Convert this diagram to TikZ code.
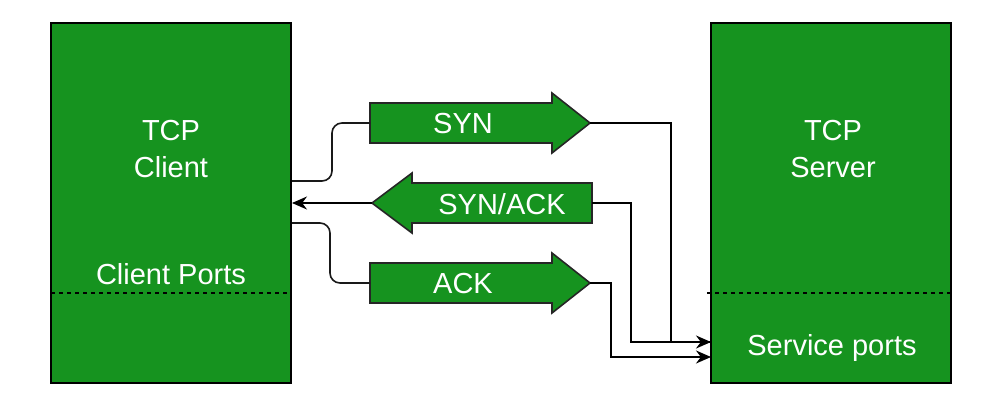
\documentclass[tikz,border=0pt]{standalone}
\usepackage{fontspec}
\setmainfont{Liberation Sans}
\usetikzlibrary{arrows.meta}
\definecolor{boxgreen}{RGB}{22,147,31}
\tikzset{
  x=1pt, y=-1pt,
  hostbox/.style={draw=black, line width=1.6pt, fill=boxgreen, rectangle, minimum width=240pt, minimum height=360pt, inner sep=0pt},
  lbl/.style={text=white, font=\fontsize{29}{37}\selectfont, align=center, inner sep=0pt},
  msgarrow/.style={draw=black!85, line width=1.6pt, fill=boxgreen, line join=miter},
  portline/.style={draw=black, line width=1.3pt, dash pattern=on 4pt off 4pt},
  conn/.style={draw=black!90, line width=1.6pt, rounded corners=10pt},
  connarr/.style={draw=black, line width=1.6pt, -{Stealth[length=15pt,width=13pt]}},
}
\begin{document}
\begin{tikzpicture}
\useasboundingbox (0,0) rectangle (996,408);
% hosts
\node[hostbox] (client) at (171,203) {};
\node[hostbox] (server) at (831,203) {};
\node[lbl] (clienttxt) at (171,149) {TCP\\Client};
\node[lbl] (servertxt) at (833,149) {TCP\\Server};
\node[lbl] (cports) at (171,274) {Client Ports};
\node[lbl] (sports) at (832,348) {Service ports};
% port separators
\coordinate (cpl) at (51,293);
\coordinate (cpr) at (290,293);
\coordinate (spl) at (707,293);
\coordinate (spr) at (951,293);
\draw[portline] (cpl) -- (cpr);
\draw[portline] (spl) -- (spr);
% message arrows
\draw[msgarrow] (370,103) -- (552,103) -- (552,93) -- (590,123) -- (552,153) -- (552,143) -- (370,143) -- cycle;
\draw[msgarrow] (592,183) -- (412,183) -- (412,173) -- (372,203) -- (412,233) -- (412,223) -- (592,223) -- cycle;
\draw[msgarrow] (370,263) -- (552,263) -- (552,253) -- (590,283) -- (552,313) -- (552,303) -- (370,303) -- cycle;
\node[lbl] (syn) at (463,124) {SYN};
\node[lbl] (synack) at (502,204) {SYN/ACK};
\node[lbl] (ack) at (463,284) {ACK};
% anchor coordinates
\coordinate (syntail) at (370,123);
\coordinate (syntip) at (590,123);
\coordinate (satail) at (592,203);
\coordinate (satip) at (372,203);
\coordinate (acktail) at (370,283);
\coordinate (acktip) at (590,283);
\coordinate (cout1) at (292,181);
\coordinate (cin) at (292,203);
\coordinate (cout2) at (292,223);
\coordinate (sin1) at (711,342);
\coordinate (sin2) at (711,357);
% client side connectors
\draw[conn] (cout1) -- (332,181) -- (332,123) -- (syntail);
\draw[connarr] (satip) -- (cin);
\draw[conn] (cout2) -- (330,223) -- (330,283) -- (acktail);
% server side connectors
\draw[connarr] (syntip) -- (671,123) -- (671,342) -- (sin1);
\draw[draw=black, line width=1.6pt] (satail) -- (631,203) -- (631,342) -- (sin1);
\draw[connarr] (acktip) -- (611,283) -- (611,357) -- (sin2);
\end{tikzpicture}
\end{document}
